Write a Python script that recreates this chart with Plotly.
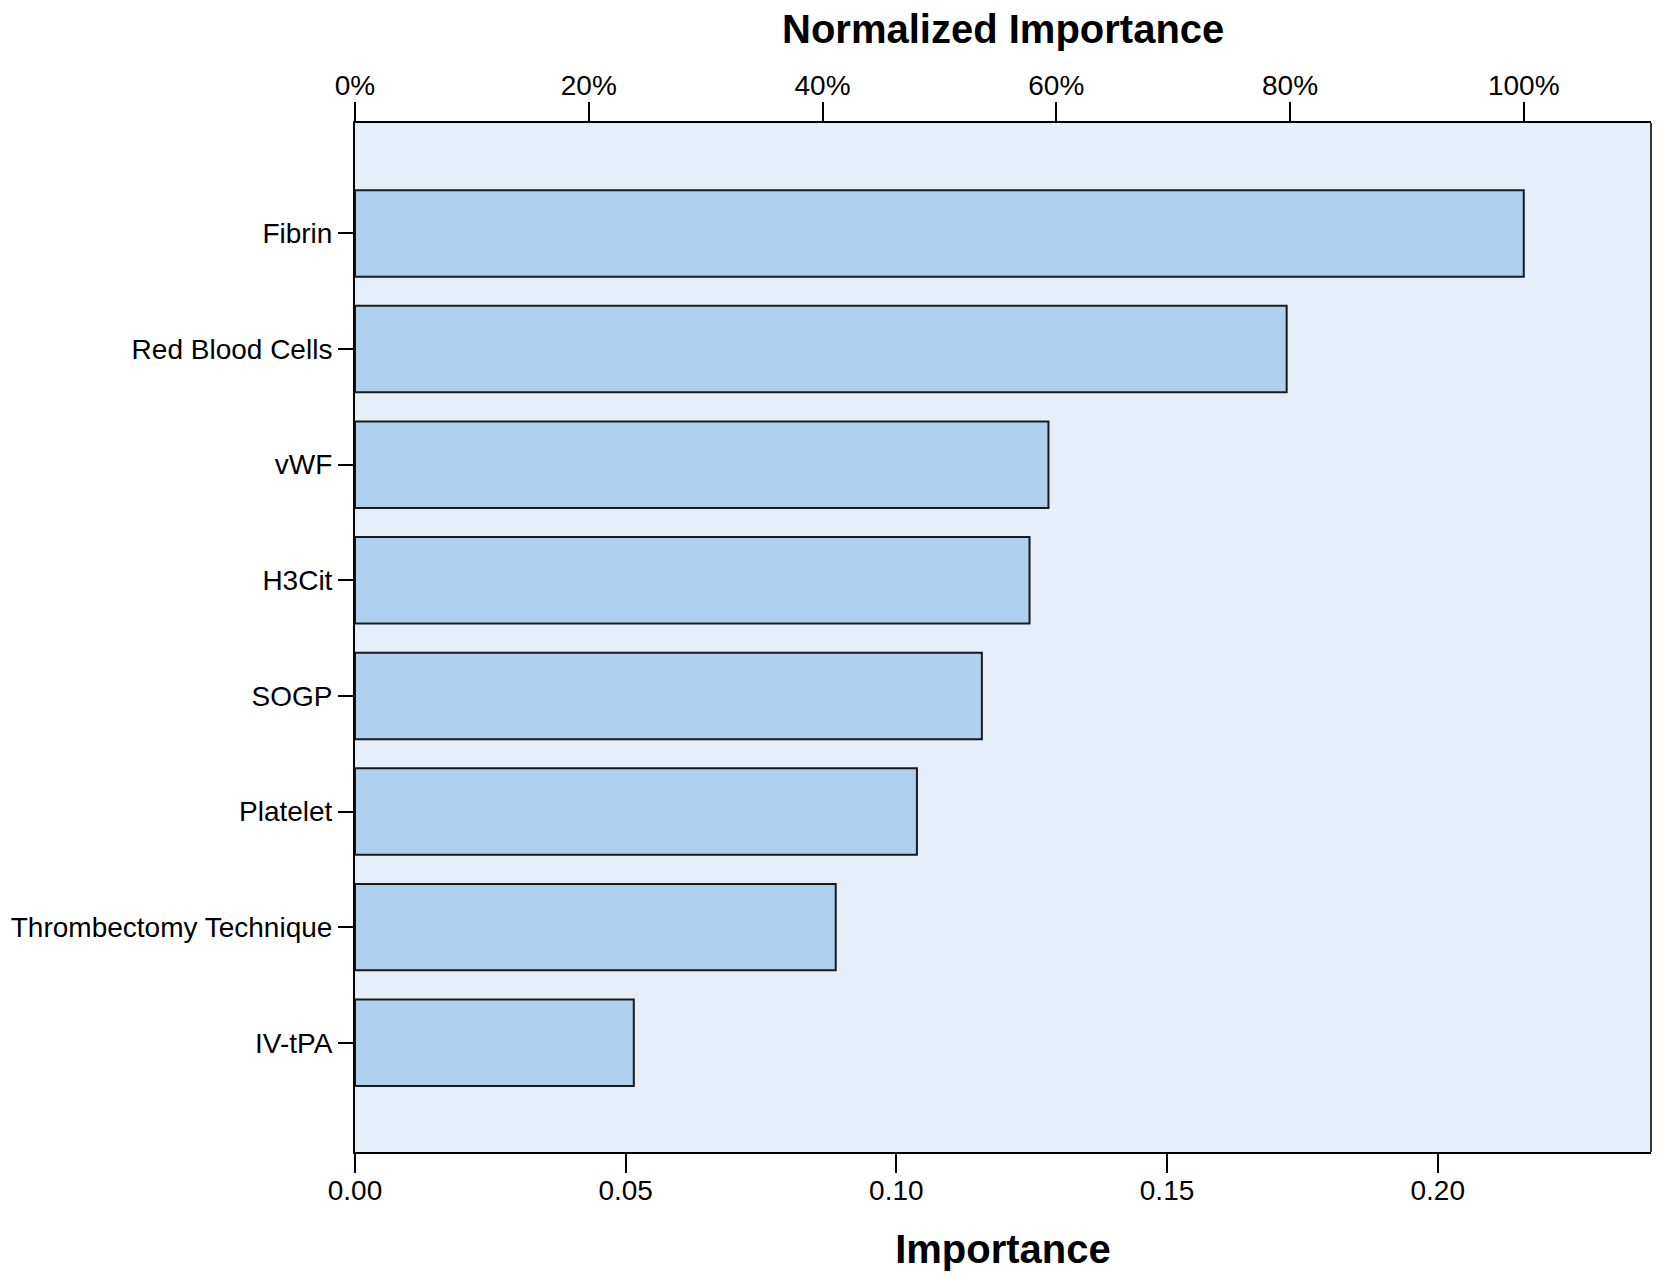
import plotly.graph_objects as go

categories = ["Fibrin", "Red Blood Cells", "vWF", "H3Cit", "SOGP", "Platelet",
              "Thrombectomy Technique", "IV-tPA"]
importance = [0.2159, 0.1721, 0.1281, 0.1246, 0.1158, 0.1038, 0.0888, 0.0515]
x_ticks = [0.00, 0.05, 0.10, 0.15, 0.20]
x_tick_labels = ["0.00", "0.05", "0.10", "0.15", "0.20"]
norm_ticks = [0, 20, 40, 60, 80, 100]
norm_tick_labels = ["0%", "20%", "40%", "60%", "80%", "100%"]

max_imp = max(importance)
normalized = [v / max_imp * 100 for v in importance]
x_max = 0.2394

FONT = "Liberation Sans, Arial, sans-serif"

fig = go.Figure()
fig.add_trace(go.Bar(
    y=categories, x=importance, orientation="h",
    marker=dict(color="#AED0EE", line=dict(color="#1a1a1a", width=2)),
    xaxis="x", yaxis="y", showlegend=False,
))
fig.add_trace(go.Scatter(
    y=categories, x=normalized, mode="markers",
    marker=dict(opacity=0), xaxis="x2", yaxis="y", showlegend=False,
    hoverinfo="skip",
))

fig.update_layout(
    width=1644, height=1263,
    margin=dict(l=347, r=1, t=115, b=119),
    paper_bgcolor="white", plot_bgcolor="#E4EFFA",
    bargap=0.252,
    font=dict(family=FONT, color="black", size=28),
    xaxis=dict(
        range=[0, x_max], tickvals=x_ticks, ticktext=x_tick_labels,
        showgrid=False, zeroline=False, automargin=False,
        showline=True, linecolor="black", linewidth=2, mirror=False,
        ticks="outside", ticklen=19, tickwidth=2, tickcolor="black",
        tickfont=dict(size=28), ticklabelstandoff=-7,
        title=dict(text="<b>Importance</b>", font=dict(size=40), standoff=42),
    ),
    xaxis2=dict(
        overlaying="x", side="top",
        range=[0, x_max / max_imp * 100], tickvals=norm_ticks, ticktext=norm_tick_labels,
        showgrid=False, zeroline=False, automargin=False,
        showline=True, linecolor="black", linewidth=2,
        ticks="outside", ticklen=19, tickwidth=2, tickcolor="black",
        tickfont=dict(size=28), ticklabelstandoff=-4,
    ),
    yaxis=dict(
        categoryorder="array", categoryarray=categories,
        range=[7.945, -0.955], automargin=False,
        showgrid=False, zeroline=False,
        showline=True, linecolor="black", linewidth=2,
        ticks="outside", ticklen=15, tickwidth=2, tickcolor="black",
        tickfont=dict(size=28),
    ),
    annotations=[dict(text="<b>Normalized Importance</b>", xref="paper", yref="paper",
                      x=0.5, y=1, xanchor="center", yanchor="bottom", yshift=71,
                      borderpad=0, showarrow=False, font=dict(size=40, color="black"))],
    shapes=[dict(type="line", xref="paper", yref="paper", x0=1, x1=1, y0=0, y1=1,
                 line=dict(color="#333333", width=2))],
)

fig.write_html("out.html")
